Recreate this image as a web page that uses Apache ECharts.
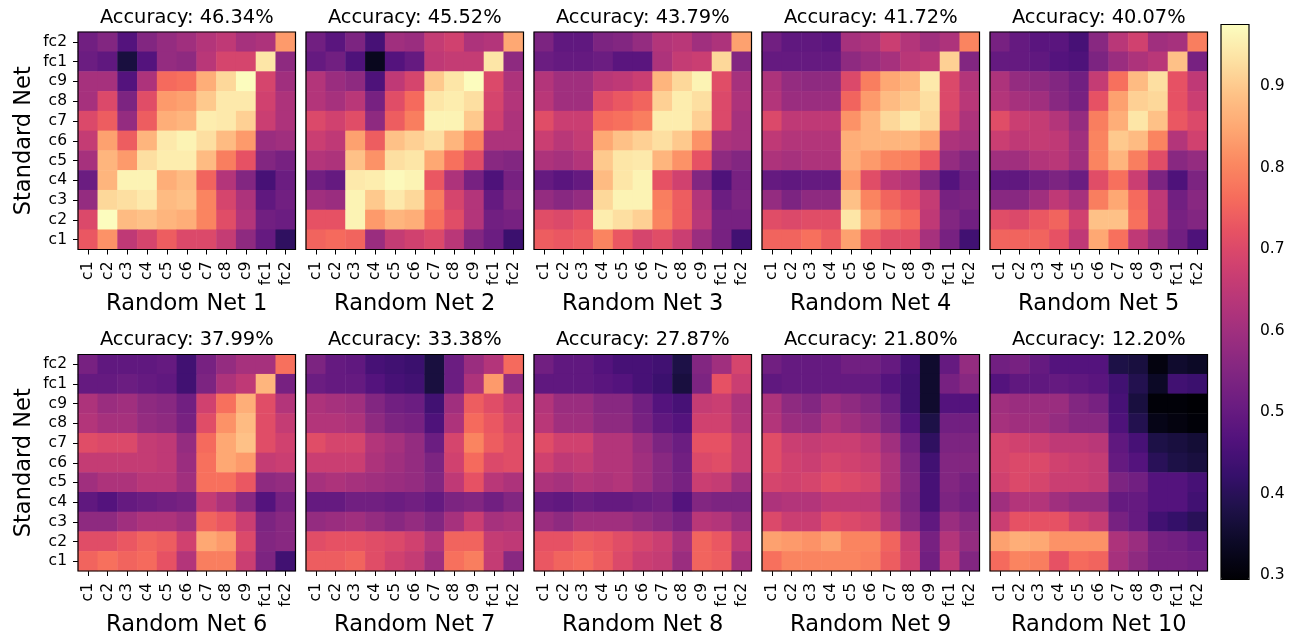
<!DOCTYPE html>
<html>
<head>
<meta charset="utf-8">
<title>Random Net heatmaps</title>
<style>
  html, body { margin: 0; padding: 0; background: #fff; }
  #chart { width: 1296px; height: 638px; }
</style>
</head>
<body>
<div id="chart"></div>
<script src="https://cdn.jsdelivr.net/npm/echarts@6/dist/echarts.min.js"></script>
<script>
const xLayers = ["c1", "c2", "c3", "c4", "c5", "c6", "c7", "c8", "c9", "fc1", "fc2"];
// top row of the picture first
const yLayers = ["fc2", "fc1", "c9", "c8", "c7", "c6", "c5", "c4", "c3", "c2", "c1"];
const accuracy = ["46.34", "45.52", "43.79", "41.72", "40.07", "37.99", "33.38", "27.87", "21.80", "12.20"];
const barTicks = [0.3, 0.4, 0.5, 0.6, 0.7, 0.8, 0.9];

const net1 = [
  [.52,.55,.47,.55,.58,.60,.63,.65,.61,.62,.83],
  [.51,.49,.37,.47,.58,.57,.64,.69,.69,.94,.57],
  [.61,.61,.47,.62,.76,.77,.86,.92,.975,.69,.60],
  [.61,.70,.54,.71,.83,.84,.90,.945,.945,.68,.62],
  [.70,.74,.58,.74,.86,.87,.95,.945,.91,.67,.62],
  [.66,.84,.74,.87,.945,.96,.93,.88,.83,.59,.60],
  [.61,.87,.83,.93,.95,.95,.88,.79,.72,.55,.53],
  [.51,.87,.96,.96,.86,.88,.75,.63,.55,.45,.51],
  [.58,.92,.93,.945,.88,.89,.80,.69,.62,.49,.52],
  [.70,.975,.88,.89,.87,.86,.80,.71,.63,.52,.51],
  [.73,.82,.65,.69,.74,.70,.70,.66,.57,.50,.41]
];
const net2 = [
  [.52,.48,.54,.45,.60,.59,.66,.68,.62,.63,.85],
  [.50,.52,.46,.33,.47,.50,.65,.66,.66,.94,.57],
  [.63,.59,.57,.46,.65,.69,.90,.94,.975,.70,.62],
  [.63,.61,.64,.53,.71,.76,.94,.95,.93,.69,.63],
  [.70,.68,.71,.57,.74,.79,.96,.96,.90,.68,.62],
  [.67,.65,.84,.74,.89,.91,.93,.87,.80,.62,.62],
  [.63,.62,.89,.82,.93,.94,.85,.77,.71,.56,.55],
  [.52,.50,.945,.95,.97,.96,.73,.62,.53,.46,.53],
  [.60,.59,.96,.90,.945,.92,.79,.69,.63,.50,.55],
  [.72,.72,.96,.83,.87,.86,.77,.71,.63,.52,.53],
  [.75,.76,.75,.59,.66,.68,.70,.64,.55,.51,.43]
];
const net3 = [
  [.54,.49,.49,.54,.55,.58,.63,.64,.60,.62,.84],
  [.51,.50,.50,.51,.48,.48,.62,.66,.67,.92,.55],
  [.63,.60,.60,.64,.65,.67,.87,.92,.96,.71,.61],
  [.64,.60,.60,.71,.73,.75,.91,.95,.93,.70,.62],
  [.71,.67,.67,.76,.77,.79,.95,.95,.91,.70,.61],
  [.67,.64,.66,.85,.89,.91,.93,.90,.82,.62,.61],
  [.62,.61,.63,.90,.94,.945,.87,.82,.72,.57,.55],
  [.50,.48,.50,.88,.94,.96,.72,.68,.55,.46,.53],
  [.58,.56,.58,.92,.96,.96,.79,.74,.63,.51,.54],
  [.71,.70,.72,.95,.93,.91,.80,.74,.64,.53,.53],
  [.74,.73,.74,.80,.73,.69,.71,.67,.59,.53,.44]
];
const net4 = [
  [.52,.49,.49,.48,.61,.62,.67,.63,.60,.62,.80],
  [.50,.50,.50,.50,.57,.59,.61,.64,.65,.91,.55],
  [.62,.58,.57,.57,.70,.79,.85,.87,.945,.70,.63],
  [.63,.59,.59,.59,.75,.83,.88,.90,.93,.70,.64],
  [.70,.65,.65,.65,.82,.87,.92,.945,.92,.69,.62],
  [.65,.63,.63,.63,.86,.87,.87,.87,.84,.62,.61],
  [.62,.61,.62,.62,.86,.83,.80,.79,.73,.58,.55],
  [.50,.49,.50,.50,.83,.71,.65,.63,.55,.47,.52],
  [.58,.54,.57,.57,.89,.80,.75,.72,.66,.53,.54],
  [.71,.70,.71,.71,.94,.84,.79,.76,.65,.55,.52],
  [.75,.75,.77,.74,.84,.74,.71,.71,.61,.53,.44]
];
const net5 = [
  [.53,.50,.48,.48,.45,.56,.64,.68,.60,.61,.79],
  [.50,.50,.49,.47,.46,.54,.59,.62,.64,.89,.53],
  [.62,.58,.57,.55,.52,.66,.77,.88,.93,.72,.65],
  [.63,.61,.60,.56,.53,.72,.84,.91,.92,.72,.67],
  [.71,.67,.66,.63,.58,.79,.86,.94,.89,.73,.70],
  [.67,.65,.66,.65,.60,.80,.90,.88,.80,.63,.68],
  [.60,.60,.63,.64,.60,.80,.87,.79,.71,.56,.58],
  [.49,.49,.52,.54,.51,.71,.77,.67,.54,.46,.54],
  [.56,.56,.60,.65,.61,.79,.85,.76,.65,.52,.56],
  [.71,.70,.73,.75,.68,.89,.89,.77,.65,.53,.55],
  [.75,.75,.75,.72,.65,.85,.77,.65,.59,.52,.46]
];
const net6 = [
  [.53,.49,.49,.49,.50,.44,.53,.58,.61,.61,.77],
  [.50,.50,.51,.50,.49,.44,.54,.62,.65,.87,.53],
  [.62,.59,.60,.57,.56,.52,.68,.77,.86,.71,.63],
  [.63,.61,.61,.58,.57,.53,.71,.82,.88,.71,.66],
  [.71,.70,.70,.66,.65,.58,.76,.85,.89,.71,.68],
  [.66,.66,.66,.66,.65,.59,.77,.85,.83,.66,.67],
  [.60,.62,.62,.64,.64,.60,.77,.77,.73,.57,.58],
  [.49,.47,.50,.51,.52,.53,.66,.62,.56,.47,.53],
  [.57,.57,.60,.62,.62,.60,.75,.73,.67,.54,.56],
  [.71,.71,.73,.75,.74,.68,.85,.83,.70,.55,.56],
  [.75,.77,.75,.76,.72,.63,.79,.79,.67,.54,.44]
];
const net7 = [
  [.54,.50,.49,.45,.44,.43,.37,.51,.59,.63,.76],
  [.51,.50,.50,.47,.45,.44,.37,.51,.62,.83,.58],
  [.62,.61,.60,.55,.52,.51,.44,.60,.74,.71,.67],
  [.63,.63,.62,.57,.54,.53,.46,.62,.76,.73,.69],
  [.71,.69,.69,.63,.61,.58,.51,.69,.80,.74,.71],
  [.67,.67,.67,.62,.60,.58,.54,.68,.76,.70,.71],
  [.61,.62,.61,.60,.59,.58,.55,.65,.72,.64,.62],
  [.50,.50,.52,.52,.51,.52,.50,.54,.55,.52,.55],
  [.58,.59,.60,.58,.56,.58,.55,.61,.67,.61,.62],
  [.71,.72,.72,.71,.70,.68,.63,.75,.75,.66,.65],
  [.74,.74,.75,.71,.68,.66,.60,.77,.79,.66,.56]
];
const net8 = [
  [.52,.49,.49,.47,.45,.45,.44,.38,.55,.60,.69],
  [.49,.49,.49,.48,.47,.45,.43,.37,.54,.72,.67],
  [.63,.59,.59,.56,.56,.52,.47,.45,.66,.67,.62],
  [.64,.60,.60,.57,.57,.53,.49,.47,.68,.68,.63],
  [.71,.68,.68,.63,.63,.59,.54,.51,.72,.72,.67],
  [.68,.65,.66,.63,.63,.60,.56,.52,.70,.71,.67],
  [.62,.61,.63,.62,.63,.60,.56,.53,.67,.66,.60],
  [.50,.49,.51,.50,.50,.51,.52,.47,.55,.54,.54],
  [.59,.57,.60,.60,.60,.58,.56,.53,.64,.63,.59],
  [.72,.72,.74,.73,.71,.69,.67,.61,.75,.73,.65],
  [.73,.75,.76,.74,.70,.67,.66,.59,.75,.74,.61]
];
const net9 = [
  [.52,.50,.50,.50,.52,.52,.50,.45,.35,.50,.58],
  [.49,.50,.50,.50,.50,.50,.47,.44,.35,.53,.56],
  [.62,.57,.55,.59,.57,.55,.51,.44,.35,.47,.47],
  [.63,.59,.58,.62,.60,.58,.54,.47,.38,.52,.52],
  [.71,.67,.66,.67,.67,.65,.60,.52,.41,.54,.54],
  [.71,.68,.67,.69,.68,.67,.62,.54,.44,.55,.55],
  [.69,.68,.69,.71,.70,.69,.62,.55,.45,.55,.53],
  [.62,.63,.63,.65,.65,.65,.60,.54,.45,.54,.52],
  [.70,.67,.67,.71,.70,.69,.63,.56,.49,.59,.56],
  [.84,.83,.82,.84,.80,.80,.75,.67,.53,.63,.58],
  [.77,.80,.80,.80,.80,.79,.74,.68,.52,.65,.55]
];
const net10 = [
  [.52,.53,.50,.47,.47,.47,.38,.37,.31,.35,.34],
  [.47,.49,.49,.50,.49,.48,.44,.39,.34,.44,.43],
  [.60,.59,.59,.59,.55,.53,.45,.37,.30,.30,.295],
  [.61,.60,.60,.58,.56,.56,.46,.39,.32,.31,.30],
  [.69,.68,.67,.65,.65,.64,.49,.45,.38,.37,.36],
  [.69,.70,.70,.68,.67,.66,.50,.47,.40,.38,.37],
  [.68,.70,.69,.67,.67,.66,.54,.52,.47,.47,.45],
  [.60,.63,.63,.60,.58,.58,.50,.50,.47,.47,.44],
  [.67,.72,.72,.72,.68,.66,.53,.50,.44,.42,.40],
  [.84,.86,.85,.82,.82,.82,.62,.59,.53,.52,.50],
  [.76,.80,.79,.72,.76,.75,.61,.57,.53,.53,.52]
];
const nets = [net1, net2, net3, net4, net5, net6, net7, net8, net9, net10];

// matplotlib magma, evenly spaced
const magma = ["#000004", "#0b0924", "#1d1147", "#36106b", "#51127c", "#6a1c81", "#822681", "#9c2e7f", "#b63679",
  "#cf4070", "#e65164", "#f66c5c", "#fb8861", "#fea772", "#fec287", "#fde2a3", "#fcfdbf"];
const colorMin = 0.295;
const colorMax = 0.976;

const font = "DejaVu Sans";
const panelLefts = [78, 306, 534, 762, 990];
const panelTops = [32, 354.5];
const panelSize = 217.5;

const chart = echarts.init(document.getElementById("chart"));

let grids = [], xAxes = [], yAxes = [], series = [], titles = [];
nets.forEach((net, n) => {
  const col = n % 5;
  const row = Math.floor(n / 5);
  const data = [];
  net.forEach((vals, r) => vals.forEach((v, c) => data.push([c, r, v])));

  grids.push({
    left: panelLefts[col], top: panelTops[row], width: panelSize, height: panelSize,
    show: true, z: 5, backgroundColor: "transparent", borderColor: "#000", borderWidth: 1.2
  });
  xAxes.push({
    gridIndex: n, type: "category", data: xLayers, position: "bottom",
    name: "Random Net " + (n + 1), nameLocation: "middle", nameGap: 43,
    nameTextStyle: { fontFamily: font, fontSize: 22.5, color: "#000" },
    axisLine: { show: false },
    axisTick: { show: true, alignWithLabel: true, length: 5, lineStyle: { color: "#000", width: 1 } },
    axisLabel: { interval: 0, rotate: 90, margin: 12, fontFamily: font, fontSize: 15.5, color: "#000" },
    splitLine: { show: false }
  });
  yAxes.push({
    gridIndex: n, type: "category", data: yLayers, inverse: true,
    name: col === 0 ? "Standard Net" : "", nameLocation: "middle", nameGap: 42,
    nameTextStyle: { fontFamily: font, fontSize: 22.5, color: "#000" },
    axisLine: { show: false },
    axisTick: { show: col === 0, alignWithLabel: true, length: 5, lineStyle: { color: "#000", width: 1 } },
    axisLabel: { show: col === 0, interval: 0, margin: 11, fontFamily: font, fontSize: 15.5, color: "#000" },
    splitLine: { show: false }
  });
  series.push({
    type: "heatmap", xAxisIndex: n, yAxisIndex: n, data: data,
    progressive: 0, itemStyle: { borderWidth: 0 }, emphasis: { disabled: true }
  });
  titles.push({
    text: "Accuracy: " + accuracy[n] + "%",
    left: panelLefts[col] + panelSize / 2, top: panelTops[row] - 24, textAlign: "center", padding: 0,
    textStyle: { fontFamily: font, fontSize: 19.4, fontWeight: "normal", color: "#000" }
  });
});

// colorbar frame and ticks, the gradient itself comes from visualMap
grids.push({
  left: 1221, top: 24.5, width: 28, height: 555,
  show: true, z: 10, backgroundColor: "transparent", borderColor: "#000", borderWidth: 1.2
});
xAxes.push({ gridIndex: 10, type: "value", show: false });
yAxes.push({
  gridIndex: 10, type: "value", position: "right", min: colorMin, max: colorMax,
  axisLine: { show: false },
  axisTick: { show: true, length: 5, customValues: barTicks, lineStyle: { color: "#000", width: 1 } },
  axisLabel: {
    margin: 11, fontFamily: font, fontSize: 15.5, color: "#000",
    customValues: barTicks, formatter: v => v.toFixed(1)
  },
  splitLine: { show: false }
});

chart.setOption({
  animation: false,
  backgroundColor: "#fff",
  title: titles,
  grid: grids,
  xAxis: xAxes,
  yAxis: yAxes,
  visualMap: {
    type: "continuous", min: colorMin, max: colorMax, calculable: false, realtime: false,
    seriesIndex: nets.map((_, i) => i),
    left: 1221, top: 24.5, itemWidth: 28, itemHeight: 555, padding: 0,
    text: null, showLabel: false, inRange: { color: magma }
  },
  series: series
});
</script>
</body>
</html>
